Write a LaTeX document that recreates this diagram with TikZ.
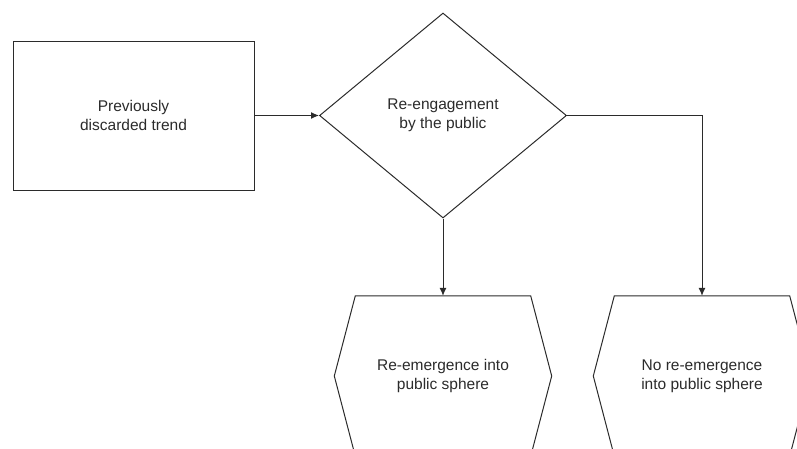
\documentclass[tikz,border=0pt]{standalone}
\usepackage{fontspec}
\setmainfont{Liberation Sans}
\usetikzlibrary{shapes.geometric,arrows.meta,calc}
\definecolor{ink}{HTML}{2B2B2B}
\tikzset{
  every node/.style={font=\fontsize{15.5}{19}\selectfont, text=ink, align=center},
  box/.style={draw=ink, line width=1pt, rectangle, minimum width=241pt, minimum height=149pt, inner sep=0pt},
  decision/.style={draw=ink, line width=1pt, diamond, minimum width=247pt, minimum height=205pt, inner sep=0pt},
  hexframe/.style={rectangle, minimum width=175pt, minimum height=160pt, inner sep=0pt},
  hexline/.style={draw=ink, line width=1pt, line join=miter},
  flow/.style={draw=ink, line width=1pt, -{Latex[length=8pt,width=7pt]}}
}
\begin{document}
\begin{tikzpicture}[x=1pt,y=-1pt]
  \useasboundingbox (0,0) rectangle (797,448);
  \node[box] (trend) at (133.5,115.5) {Previously\\discarded trend};
  \node[decision] (engage) at (443,115.5) {Re-engagement\\by the public};
  \node[hexframe] (yes) at (443,376) {Re-emergence into\\public sphere};
  \node[hexframe] (no) at (702,376) {No re-emergence\\into public sphere};
  % hexagonal outlines around the two outcome nodes
  \foreach \h in {yes,no}{
    \draw[hexline] (\h.north west) -- (\h.north east) -- ($(\h.east)+(21,0)$)
      -- (\h.south east) -- (\h.south west) -- ($(\h.west)+(-21,0)$) -- cycle;
  }
  \draw[flow] (trend.east) -- (engage.west);
  \draw[flow] (engage.south) -- (yes.north);
  \draw[flow] (engage.east) -| (no.north);
\end{tikzpicture}
\end{document}
